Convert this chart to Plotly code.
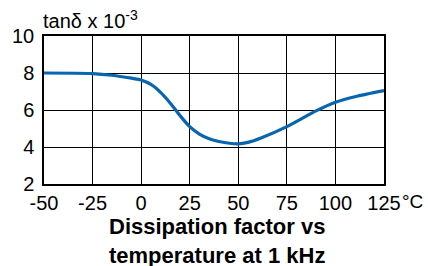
import plotly.graph_objects as go

temps = [-50, -25, -15, -5, 0, 5, 10, 15, 20, 25, 30, 35, 40, 50, 55, 62, 75, 90, 100, 110, 125]
tan_delta = [8.0, 7.97, 7.88, 7.72, 7.62, 7.38, 6.95, 6.37, 5.7, 5.1, 4.7, 4.45, 4.3, 4.17, 4.25, 4.5, 5.1, 5.95, 6.42, 6.72, 7.05]
x_ticks = [-50, -25, 0, 25, 50, 75, 100, 125]
y_ticks = [2, 4, 6, 8, 10]

FONT = "Liberation Sans, Arial, sans-serif"

fig = go.Figure()
fig.add_trace(go.Scatter(x=temps, y=tan_delta, mode="lines",
                         line=dict(color="#0865b0", width=3.2, shape="spline", smoothing=0.8),
                         hoverinfo="skip", showlegend=False))

fig.update_layout(
    width=428, height=266,
    margin=dict(l=40, r=44, t=36, b=82),
    paper_bgcolor="white", plot_bgcolor="white",
    font=dict(family=FONT, size=20, color="black"),
    xaxis=dict(range=[-50, 125], tickvals=x_ticks, ticktext=[str(v) for v in x_ticks],
               showgrid=True, gridcolor="black", gridwidth=1,
               showline=True, linecolor="black", linewidth=1.5, mirror=True,
               zeroline=False, ticks="", ticklabelstandoff=0, fixedrange=True),
    yaxis=dict(range=[2, 10], tickvals=y_ticks, ticktext=[str(v) for v in y_ticks],
               showgrid=True, gridcolor="black", gridwidth=1,
               showline=True, linecolor="black", linewidth=1.5, mirror=True,
               zeroline=False, ticks="", ticklabelstandoff=4, fixedrange=True),
    annotations=[
        dict(text="tanδ x 10<sup>-3</sup>", xref="paper", yref="paper", x=0, y=1,
             xanchor="left", yanchor="bottom", xshift=-3, yshift=2, align="left", showarrow=False,
             font=dict(family=FONT, size=20, color="black")),
        dict(text="°C", xref="paper", yref="paper", x=1, y=0,
             xanchor="left", yanchor="top", xshift=16, yshift=-5, showarrow=False,
             font=dict(family=FONT, size=19, color="black")),
        dict(text="<b>Dissipation factor vs<br>temperature at 1 kHz</b>", xref="paper", yref="paper",
             x=0.51, y=0, xanchor="center", yanchor="top", yshift=-28, showarrow=False,
             font=dict(family=FONT, size=22, color="black")),
    ],
)

fig.write_html("out.html", config={"displayModeBar": False},
               post_script="document.body.style.margin='0';")
